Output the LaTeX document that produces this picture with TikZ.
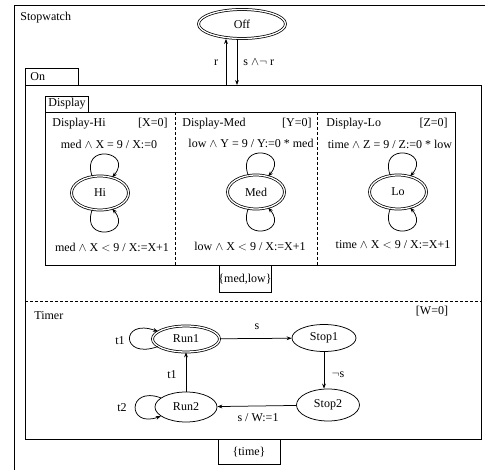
\documentclass[tikz,border=0pt]{standalone}
\usepackage{fontspec}
\setmainfont{Liberation Serif}
\usetikzlibrary{arrows.meta,shapes.geometric}
\begin{document}
\begin{tikzpicture}[x=1pt,y=-1pt,
  font=\fontsize{12}{14}\selectfont,
  line width=0.75pt,
  arr/.style={-{Stealth[length=5pt,width=3.8pt]}},
  dstate/.style={ellipse, draw, double, double distance=1.3pt, inner sep=0pt},
  sstate/.style={ellipse, draw, inner sep=0pt},
  lbl/.style={inner sep=1pt},
  sepline/.style={dash pattern=on 3pt off 2pt, line width=0.6pt}]
\useasboundingbox (0,0) rectangle (485,470);
\clip (0,0) rectangle (485,470);
% Stopwatch
\draw (14,500) -- (14,5) -- (500,5);
\node[lbl,anchor=west] (swl) at (19,18) {Stopwatch};
\node[dstate,minimum width=87pt,minimum height=29pt] (Off) at (242,24) {Off};
% On
\draw (25,85) rectangle (78,68);
\node[lbl,anchor=west] (onl) at (29,77) {On};
\draw (25,85) rectangle (481,439);
\coordinate (onUp) at (226,85);
\coordinate (onDn) at (237,85);
\draw[arr] (onUp) -- (onUp |- Off.south);
\draw[arr] (onDn |- Off.south) -- (onDn);
\node[lbl] (lr) at (216,63) {r};
\node[lbl,anchor=west] (lsr) at (242,62) {s $\wedge\neg$ r};
% Display
\draw (45,112) rectangle (88,96);
\node[lbl,anchor=west] (dl) at (47,104) {Display};
\draw (45,112) rectangle (455,265);
\draw[sepline] (175,112) -- (175,265);
\draw[sepline] (317,112) -- (317,265);
\draw (219,265) rectangle (271,292);
\node[lbl] (ml) at (245,279) {\{med,low\}};
% Display-Hi
\node[lbl,anchor=west] (dhl) at (51,124) {Display-Hi};
\node[lbl,anchor=east] (xl) at (169,123) {[X=0]};
\node[dstate,minimum width=57pt,minimum height=34pt] (Hi) at (100,193) {Hi};
\node[lbl] (h1) at (109,144) {med $\wedge$ X = 9 / X:=0};
\node[lbl] (h2) at (112,247) {med $\wedge$ X $<$ 9 / X:=X+1};
\draw[arr] (Hi.115) .. controls +(110:36pt) and +(50:34pt) .. (Hi.52);
\draw[arr] (Hi.-115) .. controls +(-110:36pt) and +(-50:34pt) .. (Hi.-52);
% Display-Med
\node[lbl,anchor=west] (dml) at (181,124) {Display-Med};
\node[lbl,anchor=east] (yl) at (313,123) {[Y=0]};
\node[dstate,minimum width=57pt,minimum height=34pt] (Med) at (256,192) {Med};
\node[lbl] (m1) at (251,143) {low $\wedge$ Y = 9 / Y:=0 * med};
\node[lbl] (m2) at (250,246) {low $\wedge$ X $<$ 9 / X:=X+1};
\draw[arr] (Med.115) .. controls +(110:36pt) and +(50:34pt) .. (Med.52);
\draw[arr] (Med.-115) .. controls +(-110:36pt) and +(-50:34pt) .. (Med.-52);
% Display-Lo
\node[lbl,anchor=west] (dll) at (325,124) {Display-Lo};
\node[lbl,anchor=east] (zl) at (449,123) {[Z=0]};
\node[dstate,minimum width=57pt,minimum height=34pt] (Lo) at (398,192) {Lo};
\node[lbl] (l1) at (390,144) {time $\wedge$ Z = 9 / Z:=0 * low};
\node[lbl] (l2) at (393,245) {time $\wedge$ X $<$ 9 / X:=X+1};
\draw[arr] (Lo.115) .. controls +(110:36pt) and +(50:34pt) .. (Lo.52);
\draw[arr] (Lo.-115) .. controls +(-110:36pt) and +(-50:34pt) .. (Lo.-52);
% Timer
\draw[sepline] (25,301) -- (481,301);
\node[lbl,anchor=west] (tl) at (33,316) {Timer};
\node[lbl] (wl) at (432,311) {[W=0]};
\draw (218,439) rectangle (280,464);
\node[lbl] (tml) at (249,452) {\{time\}};
\node[dstate,minimum width=67pt,minimum height=26pt] (Run1) at (186,339) {Run1};
\node[sstate,minimum width=64pt,minimum height=27pt] (Stop1) at (324,338) {Stop1};
\node[sstate,minimum width=63pt,minimum height=32pt] (Stop2) at (328,405) {Stop2};
\node[sstate,minimum width=62pt,minimum height=30pt] (Run2) at (186,407) {Run2};
\draw[arr] (Run1) -- (Stop1);
\draw[arr] (Stop1.south) -- (Stop1.south |- Stop2.north);
\draw[arr] (Stop2) -- (Run2);
\draw[arr] (Run2) -- (Run1);
\draw[arr] (Run1.195) .. controls +(200:40pt) and +(160:40pt) .. (Run1.165);
\draw[arr] (Run2.160) .. controls +(160:36pt) and +(200:36pt) .. (Run2.200);
\node[lbl] (t1a) at (120,341) {t1};
\node[lbl] (t2) at (122,408) {t2};
\node[lbl] (t1b) at (172,375) {t1};
\node[lbl] (sl) at (257,327) {s};
\node[lbl] (nsl) at (338,375) {$\neg$s};
\node[lbl] (swl2) at (258,418) {s / W:=1};
\end{tikzpicture}
\end{document}
